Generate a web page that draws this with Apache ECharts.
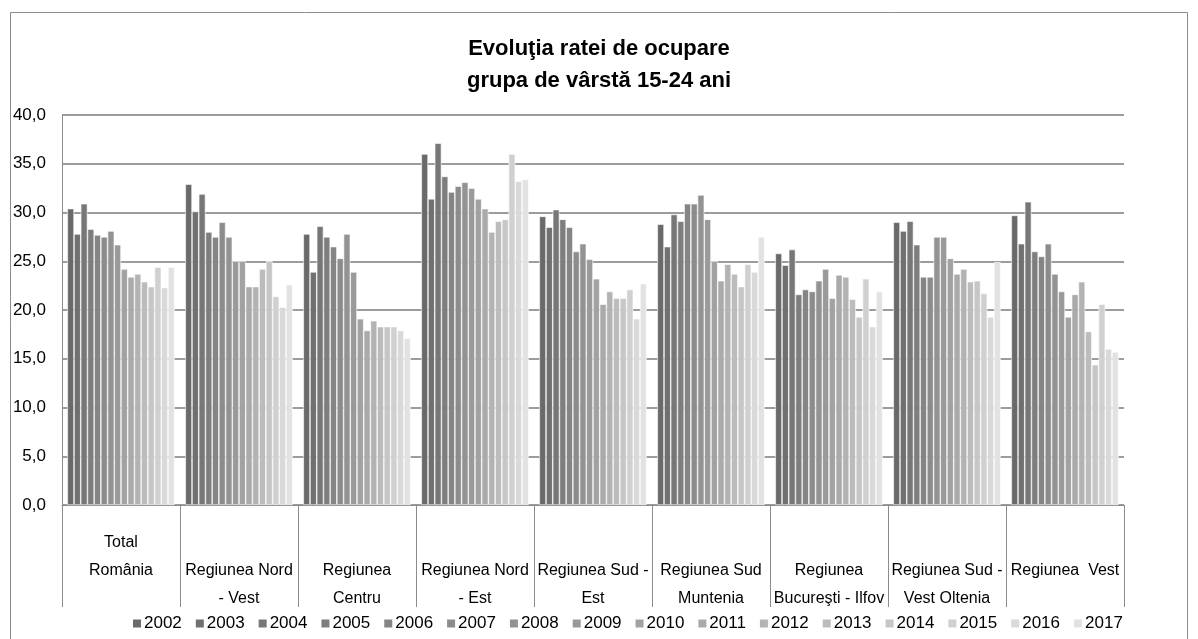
<!DOCTYPE html>
<html>
<head>
<meta charset="utf-8">
<script src="https://cdn.jsdelivr.net/npm/echarts@6/dist/echarts.min.js"></script>
<style>
  html, body { margin: 0; padding: 0; background: #ffffff; }
  #chart { width: 1198px; height: 639px; }
</style>
</head>
<body>
<div id="chart"></div>
<script>
// ---- data ----
const categories = [
  "Total\nRomânia",
  "Regiunea Nord\n- Vest",
  "Regiunea\nCentru",
  "Regiunea Nord\n- Est",
  "Regiunea Sud -\nEst",
  "Regiunea Sud\nMuntenia",
  "Regiunea\nBucureşti - Ilfov",
  "Regiunea Sud -\nVest Oltenia",
  "Regiunea  Vest"
];
const years = ["2002","2003","2004","2005","2006","2007","2008","2009","2010","2011","2012","2013","2014","2015","2016","2017"];
const yTicks = [0, 5, 10, 15, 20, 25, 30, 35, 40];

// values per region, one per year 2002..2017
const romania     = [30.4, 27.8, 30.9, 28.3, 27.7, 27.5, 28.1, 26.7, 24.2, 23.4, 23.7, 22.9, 22.4, 24.4, 22.3, 24.4];
const nordVest    = [32.9, 30.1, 31.9, 28.0, 27.5, 29.0, 27.5, 25.0, 25.0, 22.4, 22.4, 24.2, 25.0, 21.4, 20.3, 22.6];
const centru      = [27.8, 23.9, 28.6, 27.5, 26.5, 25.3, 27.8, 23.9, 19.1, 17.9, 18.9, 18.3, 18.3, 18.3, 17.9, 17.1];
const nordEst     = [36.0, 31.4, 37.1, 33.7, 32.1, 32.7, 33.1, 32.5, 31.4, 30.4, 28.0, 29.1, 29.3, 36.0, 33.2, 33.4];
const sudEst      = [29.6, 28.5, 30.3, 29.3, 28.5, 26.0, 26.8, 25.2, 23.2, 20.6, 21.9, 21.2, 21.2, 22.1, 19.1, 22.7];
const sudMuntenia = [28.8, 26.5, 29.8, 29.1, 30.9, 30.9, 31.8, 29.3, 25.0, 23.0, 24.7, 23.7, 22.4, 24.7, 23.9, 27.5];
const bucuresti   = [25.8, 24.6, 26.2, 21.6, 22.1, 21.9, 23.0, 24.2, 21.2, 23.6, 23.4, 21.1, 19.3, 23.2, 18.3, 21.9];
const oltenia     = [29.0, 28.1, 29.1, 26.7, 23.4, 23.4, 27.5, 27.5, 25.3, 23.7, 24.2, 22.9, 23.0, 21.7, 19.3, 24.9];
const vest        = [29.7, 26.8, 31.1, 26.0, 25.5, 26.8, 23.7, 21.9, 19.3, 21.6, 22.9, 17.8, 14.4, 20.6, 16.0, 15.7];

const regions = [romania, nordVest, centru, nordEst, sudEst, sudMuntenia, bucuresti, oltenia, vest];

// ---- styles ----
const colors = ["#6a6a6a","#707070","#777777","#7e7e7e","#858585","#8c8c8c","#939393","#9a9a9a",
                "#a2a2a2","#aaaaaa","#b3b3b3","#bcbcbc","#c6c6c6","#d0d0d0","#d9d9d9","#e2e2e2"];
const FONT = "'Liberation Sans Narrow', 'Arial Narrow', 'Liberation Sans', Arial, sans-serif";

const series = years.map((y, i) => ({
  name: y,
  type: 'bar',
  data: regions.map(r => r[i]),
  itemStyle: { color: colors[i], borderColor: '#ffffff', borderWidth: 0.6 },
  barGap: '0%',
  barCategoryGap: '9%'
}));

const chart = echarts.init(document.getElementById('chart'), null, { renderer: 'canvas' });
chart.setOption({
  animation: false,
  backgroundColor: '#ffffff',
  title: {
    text: 'Evoluţia ratei de ocupare\ngrupa de vârstă 15-24 ani',
    left: 'center',
    top: 28,
    textStyle: { fontFamily: FONT, fontSize: 22, fontWeight: 'bold', color: '#000', lineHeight: 32 }
  },
  graphic: [{
    type: 'rect',
    shape: { x: 10.5, y: 12.5, width: 1177, height: 640 },
    style: { fill: null, stroke: '#8c8c8c', lineWidth: 1 },
    silent: true
  }],
  legend: {
    data: years,
    top: 610,
    left: 126,
    icon: 'rect',
    itemWidth: 10,
    itemHeight: 10,
    itemGap: 12,
    textStyle: { fontFamily: FONT, fontSize: 17, color: '#000', padding: [0, 0, 0, -3] }
  },
  grid: { left: 62, right: 74, top: 115, bottom: 134, containLabel: false },
  xAxis: {
    type: 'category',
    data: categories,
    axisLine: { show: true, lineStyle: { color: '#8c8c8c', width: 1 } },
    axisTick: { show: true, alignWithLabel: false, interval: 0, length: 102, lineStyle: { color: '#8c8c8c', width: 1 } },
    axisLabel: {
      interval: 0,
      margin: 24,
      verticalAlign: 'top',
      fontFamily: FONT,
      fontSize: 16,
      lineHeight: 28,
      color: '#000',
      formatter: (v, i) => (i === 0 ? v + '\n ' : ' \n' + v)
    }
  },
  yAxis: {
    type: 'value',
    min: 0,
    max: 40,
    interval: 5,
    axisLine: { show: true, lineStyle: { color: '#8c8c8c', width: 1 } },
    axisTick: { show: false },
    splitLine: { show: true, lineStyle: { color: '#9c9c9c', width: 2 } },
    axisLabel: {
      margin: 16,
      fontFamily: FONT,
      fontSize: 17,
      color: '#000',
      formatter: v => (yTicks.indexOf(v) >= 0 ? v.toFixed(1).replace('.', ',') : '')
    }
  },
  series: series
});
</script>
</body>
</html>
